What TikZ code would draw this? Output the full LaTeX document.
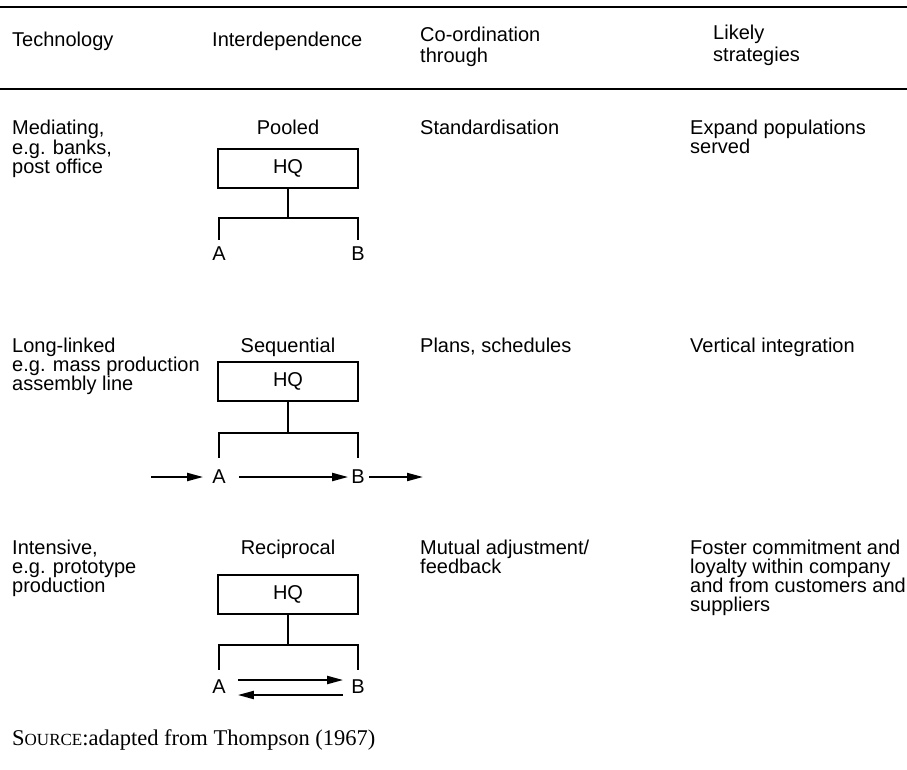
\documentclass[tikz,border=0pt]{standalone}
\usepackage{fontspec}
\setmainfont{Liberation Sans}
\newfontfamily\srcfont{Liberation Serif}
\usetikzlibrary{arrows,arrows.meta,positioning}

\begin{document}
\begin{tikzpicture}[x = 1pt, y = -1pt,
    txt/.style = {anchor = north west, inner sep = 0pt, align = left, font = \fontsize{20}{19}\selectfont},
    lbl/.style = {anchor = north, inner sep = 0pt, font = \fontsize{20}{19}\selectfont},
    hqbox/.style = {draw, line width = 2pt, minimum width = 140pt, minimum height = 39pt, inner sep = 0pt, font = \fontsize{20}{19}\selectfont},
    ab/.style = {inner sep = 0pt, font = \fontsize{20}{19}\selectfont},
    link/.style = {line width = 2pt},
    flow/.style = {line width = 2pt, -{Triangle[length = 16pt, width = 8pt]}}]
  \useasboundingbox (0,0) rectangle (907,769);
  % Rules
  \draw[line width = 2.4pt] (0,7) -- (907,7);
  \draw[line width = 2.4pt] (0,89) -- (907,89);
  % Header
  \node[txt] (tech) at (12,32) {Technology};
  \node[txt] (inter) at (212,32) {Interdependence};
  \node[txt, font = \fontsize{20}{21}\selectfont] (coord) at (420,27) {Co-ordination\\through};
  \node[txt, font = \fontsize{20}{22}\selectfont] (likely) at (713,25) {Likely\\strategies};
  % Pooled
  \node[txt, font = \fontsize{20}{17.5}\selectfont] (tech1) at (12,120) {Mediating,\\e.g. banks,\\post office};
  \node[lbl] (pooled) at (288,120) {Pooled};
  \node[hqbox] (hq1) at (288,168.5) {HQ};
  \coordinate (j1) at (288,218);
  \node[ab] (a1) at (219,254) {A};
  \node[ab] (b1) at (358,254) {B};
  \draw[link] (hq1) -- (j1);
  \draw[link] ([yshift = 7pt]a1.north) |- (j1) -| ([yshift = 7pt]b1.north);
  \node[txt] (std) at (420,120) {Standardisation};
  \node[txt] (expand) at (690,120) {Expand populations\\served};
  % Sequential
  \node[txt] (tech2) at (12,338) {Long-linked\\e.g. mass production\\assembly line};
  \node[lbl] (seq) at (288,338) {Sequential};
  \node[hqbox] (hq2) at (288,381.5) {HQ};
  \coordinate (j2) at (288,433);
  \node[ab] (a2) at (219,477) {A};
  \node[ab] (b2) at (358,477) {B};
  \coordinate (in2) at (151,477);
  \coordinate (out2) at (423,477);
  \draw[link] (hq2) -- (j2);
  \draw[link] ([yshift = 12pt]a2.north) |- (j2) -| ([yshift = 12pt]b2.north);
  \draw[flow, shorten > = 9pt] (in2) -- (a2.west);
  \draw[flow, shorten < = 13pt, shorten > = 3pt] (a2.east) -- (b2.west);
  \draw[flow, shorten < = 4pt] (b2.east) -- (out2);
  \node[txt] (plans) at (420,338) {Plans, schedules};
  \node[txt] (vert) at (690,338) {Vertical integration};
  % Reciprocal
  \node[txt] (tech3) at (12,540) {Intensive,\\e.g. prototype\\production};
  \node[lbl] (recip) at (288,540) {Reciprocal};
  \node[hqbox] (hq3) at (288,594) {HQ};
  \coordinate (j3) at (288,645);
  \node[ab] (a3) at (219,687) {A};
  \node[ab] (b3) at (358,687) {B};
  \draw[link] (hq3) -- (j3);
  \draw[link] ([yshift = 10pt]a3.north) |- (j3) -| ([yshift = 10pt]b3.north);
  \draw[flow, shorten < = 12pt, shorten > = 8pt] ([yshift = 7pt]a3.east) -- ([yshift = 7pt]b3.west);
  \draw[flow, shorten < = 8pt, shorten > = 12pt] ([yshift = -8pt]b3.west) -- ([yshift = -8pt]a3.east);
  \node[txt] (mutual) at (420,540) {Mutual adjustment/\\feedback};
  \node[txt] (foster) at (690,540) {Foster commitment and\\loyalty within company\\and from customers and\\suppliers};
  % Source
  \node[anchor = base west, inner sep = 0pt, font = \srcfont\fontsize{22.5}{22.5}\selectfont] (src) at (12,745) {S{\fontsize{17}{17}\selectfont OURCE}:adapted from Thompson (1967)};
\end{tikzpicture}
\end{document}
